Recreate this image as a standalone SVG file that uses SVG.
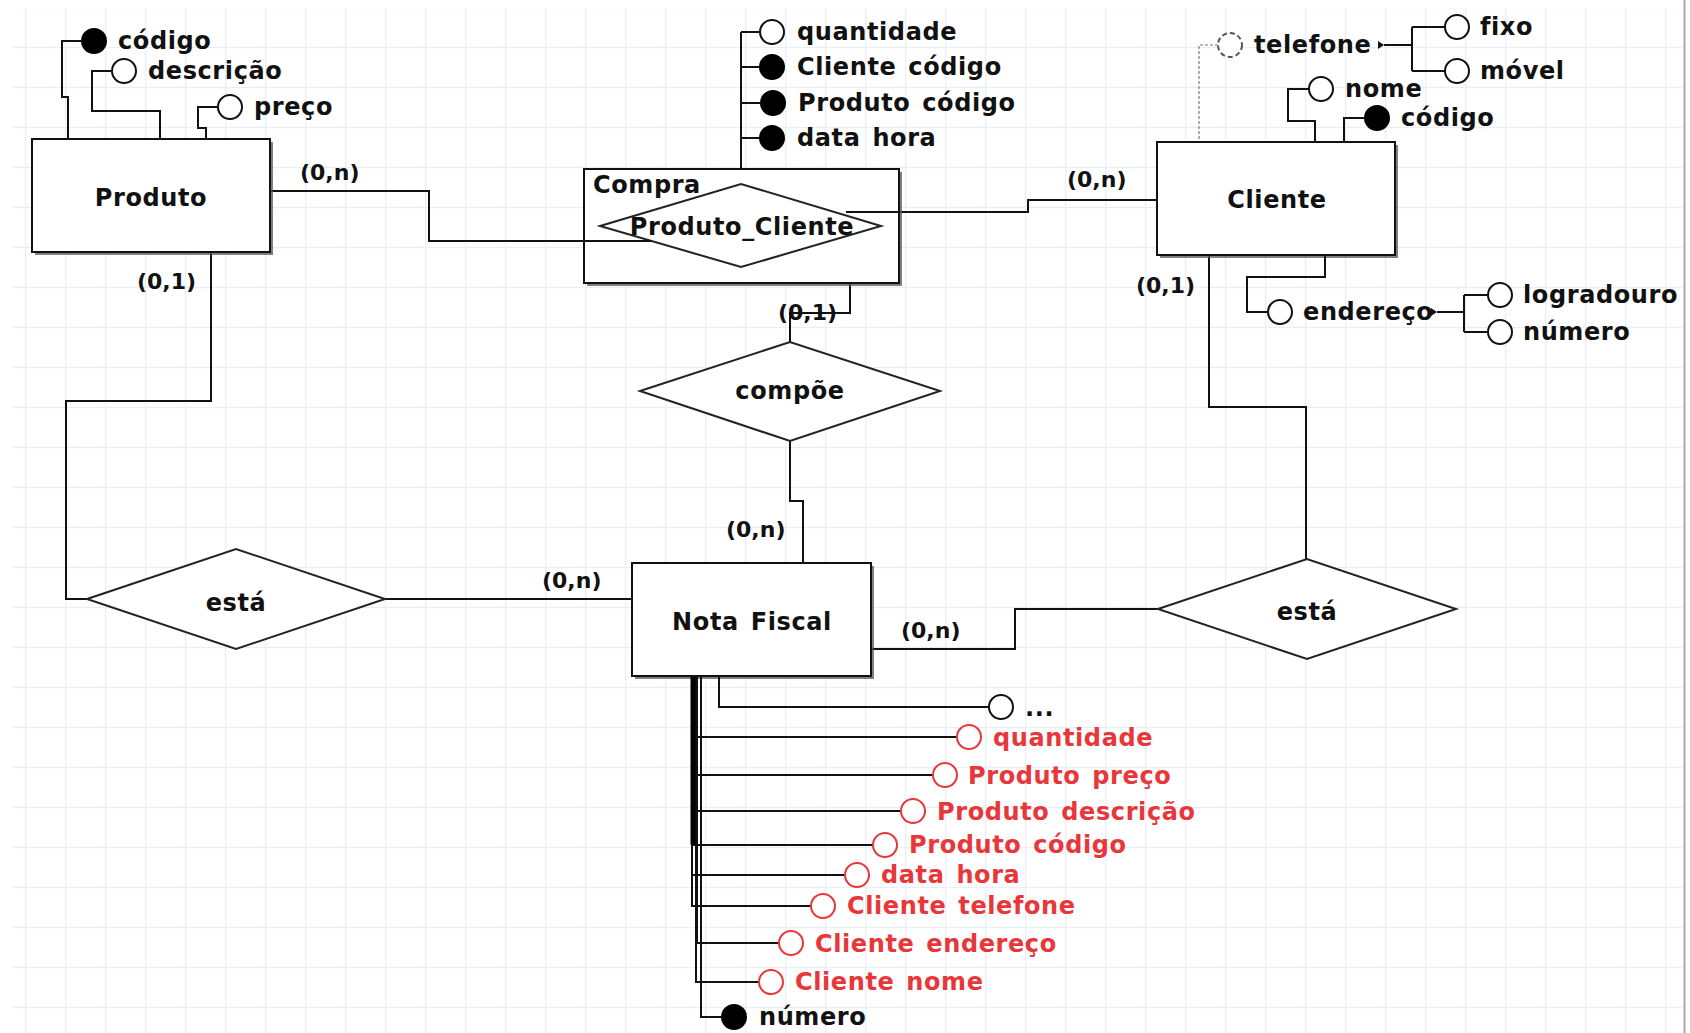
<svg xmlns="http://www.w3.org/2000/svg" width="1690" height="1033" viewBox="0 0 1690 1033">
<style>
text{font-family:"DejaVu Sans","Liberation Sans",sans-serif;font-weight:bold;fill:#111;}
.t{font-size:24px;letter-spacing:0.6px;word-spacing:3px;}
.c{text-anchor:middle;}
.lbl{font-size:22px;}
.red{fill:#e8373a;}
.ln{fill:none;stroke:#111;stroke-width:2;}
.ent{fill:#fff;stroke:#111;stroke-width:2;}
.sh{fill:#555;opacity:0.75;}
.dia{fill:#fff;stroke:#222;stroke-width:2;}
.ao{fill:#fff;stroke:#111;stroke-width:2;}
.af{fill:#000;stroke:#000;stroke-width:2;}
.ar{fill:#fff;stroke:#e8373a;stroke-width:2;}
</style>
<defs>
<pattern id="grid" patternUnits="userSpaceOnUse" x="25" y="7" width="40" height="40">
<path d="M0.5 0 V40 M0 0.5 H40" fill="none" stroke="#e8eef8" stroke-width="1.5"/>
</pattern>
</defs>
<rect width="1690" height="1033" fill="#fff"/>
<rect x="13" y="8" width="1670" height="1025" fill="url(#grid)"/>
<line x1="1684.5" y1="0" x2="1684.5" y2="1033" stroke="#aaa" stroke-width="2"/>

<g id="connectors">
<path class="ln" d="M270 191 H429 V241 H651"/>
<path class="ln" d="M846 212 H1028 V200 H1157"/>
<path class="ln" d="M850 283 V313 H790 V342"/>
<path class="ln" d="M790 441 V501 H803 V563"/>
<path class="ln" d="M211 252 V401 H66 V599 H87"/>
<path class="ln" d="M385 599 H632"/>
<path class="ln" d="M871 649 H1015 V609 H1158"/>
<path class="ln" d="M1209 255 V407 H1306 V559"/>
<text class="lbl" x="300" y="180">(0,n)</text>
<text class="lbl" x="1067" y="187">(0,n)</text>
<text class="lbl" x="137" y="289">(0,1)</text>
<text class="lbl" x="778" y="320">(0,1)</text>
<text class="lbl" x="726" y="537">(0,n)</text>
<text class="lbl" x="542" y="588">(0,n)</text>
<text class="lbl" x="901" y="638">(0,n)</text>
<text class="lbl" x="1136" y="293">(0,1)</text>
</g>

<g id="produto">
<path class="ln" d="M82 41 H62 V97 H68 V139"/>
<path class="ln" d="M112 71 H92 V111 H160 V139"/>
<path class="ln" d="M218 107 H198 V128 H206 V139"/>
<circle class="af" cx="94" cy="41" r="12"/>
<circle class="ao" cx="124" cy="71" r="12"/>
<circle class="ao" cx="230" cy="107" r="12"/>
<text class="t" x="118" y="49">código</text>
<text class="t" x="148" y="79">descrição</text>
<text class="t" x="254" y="115">preço</text>
<rect class="sh" x="35" y="142" width="238" height="113"/>
<rect class="ent" x="32" y="139" width="238" height="113"/>
<text class="t c" x="151" y="206">Produto</text>
</g>

<g id="compra">
<path class="ln" d="M741 32 V184 M741 32 H760 M741 67 H760 M741 103 H760 M741 138 H760"/>
<circle class="ao" cx="772" cy="32" r="12"/>
<circle class="af" cx="772" cy="67" r="12"/>
<circle class="af" cx="773" cy="103" r="12"/>
<circle class="af" cx="772" cy="138" r="12"/>
<text class="t" x="797" y="40">quantidade</text>
<text class="t" x="797" y="75">Cliente código</text>
<text class="t" x="798" y="111">Produto código</text>
<text class="t" x="797" y="146">data hora</text>
<rect class="sh" x="587" y="172" width="315" height="114"/>
<rect class="ent" x="584" y="169" width="315" height="114"/>
<text class="t" x="593" y="193">Compra</text>
<polygon class="dia" points="600,226 741,184 881,226 741,267"/>
<path class="ln" d="M584 241 H651"/>
<path class="ln" d="M846 212 H899"/>
<text class="t c" x="742" y="235">Produto_Cliente</text>
</g>

<g id="cliente">
<path d="M1218 45 H1199 V142" fill="none" stroke="#777" stroke-width="1.2" stroke-dasharray="3,2"/>
<circle cx="1230" cy="45" r="12" fill="#fff" stroke="#555" stroke-width="2" stroke-dasharray="5,3"/>
<text class="t" x="1254" y="53">telefone</text>
<polygon points="1378,41 1384,45 1378,49" fill="#111"/>
<path class="ln" d="M1384 45 H1412 M1412 27 V71 M1412 27 H1445 M1412 71 H1445"/>
<circle class="ao" cx="1457" cy="27" r="12"/>
<circle class="ao" cx="1457" cy="71" r="12"/>
<text class="t" x="1480" y="35">fixo</text>
<text class="t" x="1480" y="79">móvel</text>
<path class="ln" d="M1309 89 H1288 V121 H1315 V142"/>
<circle class="ao" cx="1321" cy="89" r="12"/>
<text class="t" x="1345" y="97">nome</text>
<path class="ln" d="M1365 118 H1344 V142"/>
<circle class="af" cx="1377" cy="118" r="12"/>
<text class="t" x="1401" y="126">código</text>
<rect class="sh" x="1160" y="145" width="238" height="113"/>
<rect class="ent" x="1157" y="142" width="238" height="113"/>
<text class="t c" x="1277" y="208">Cliente</text>
<path class="ln" d="M1325 255 V277 H1247 V312 H1268"/>
<circle class="ao" cx="1280" cy="312" r="12"/>
<text class="t" x="1303" y="320">endereço</text>
<polygon points="1431,308 1437,312 1431,316" fill="#111"/>
<path class="ln" d="M1437 312 H1464 M1464 295 V332 M1464 295 H1488 M1464 332 H1488"/>
<circle class="ao" cx="1500" cy="295" r="12"/>
<circle class="ao" cx="1500" cy="332" r="12"/>
<text class="t" x="1523" y="303">logradouro</text>
<text class="t" x="1523" y="340">número</text>
</g>

<g id="compoe">
<polygon class="dia" points="640,391 790,342 940,391 790,441"/>
<text class="t c" x="790" y="399">compõe</text>
</g>

<g id="esta-produto">
<polygon class="dia" points="87,599 236,549 385,599 236,649"/>
<text class="t c" x="236" y="611">está</text>
</g>

<g id="esta-cliente">
<polygon class="dia" points="1158,609 1307,559 1456,609 1307,659"/>
<text class="t c" x="1307" y="620">está</text>
</g>

<g id="nota-fiscal">
<rect class="sh" x="635" y="566" width="239" height="113"/>
<rect class="ent" x="632" y="563" width="239" height="113"/>
<text class="t c" x="752" y="630">Nota Fiscal</text>
<path class="ln" d="M719 677 V707 H988"/>
<path class="ln" d="M697 677 V737 H957"/>
<path class="ln" d="M697 677 V775 H933"/>
<path class="ln" d="M692 677 V811 H901"/>
<path class="ln" d="M694 677 V845 H873"/>
<path class="ln" d="M692 677 V875 H845"/>
<path class="ln" d="M692 677 V906 H811"/>
<path class="ln" d="M697 677 V943 H779"/>
<path class="ln" d="M696 677 V982 H759"/>
<path class="ln" d="M701 677 V1017 H722"/>
<line x1="693" y1="677" x2="693" y2="845" stroke="#000" stroke-width="5"/>
<circle class="ao" cx="1001" cy="707" r="12"/>
<text class="t" x="1025" y="716">...</text>
<circle class="ar" cx="969" cy="737" r="12"/>
<text class="t red" x="993" y="746">quantidade</text>
<circle class="ar" cx="945" cy="775" r="12"/>
<text class="t red" x="968" y="784">Produto preço</text>
<circle class="ar" cx="913" cy="811" r="12"/>
<text class="t red" x="937" y="820">Produto descrição</text>
<circle class="ar" cx="885" cy="845" r="12"/>
<text class="t red" x="909" y="853">Produto código</text>
<circle class="ar" cx="857" cy="875" r="12"/>
<text class="t red" x="881" y="883">data hora</text>
<circle class="ar" cx="823" cy="906" r="12"/>
<text class="t red" x="847" y="914">Cliente telefone</text>
<circle class="ar" cx="791" cy="943" r="12"/>
<text class="t red" x="815" y="952">Cliente endereço</text>
<circle class="ar" cx="771" cy="982" r="12"/>
<text class="t red" x="795" y="990">Cliente nome</text>
<circle class="af" cx="734" cy="1017" r="12"/>
<text class="t" x="759" y="1025">número</text>
</g>
</svg>
